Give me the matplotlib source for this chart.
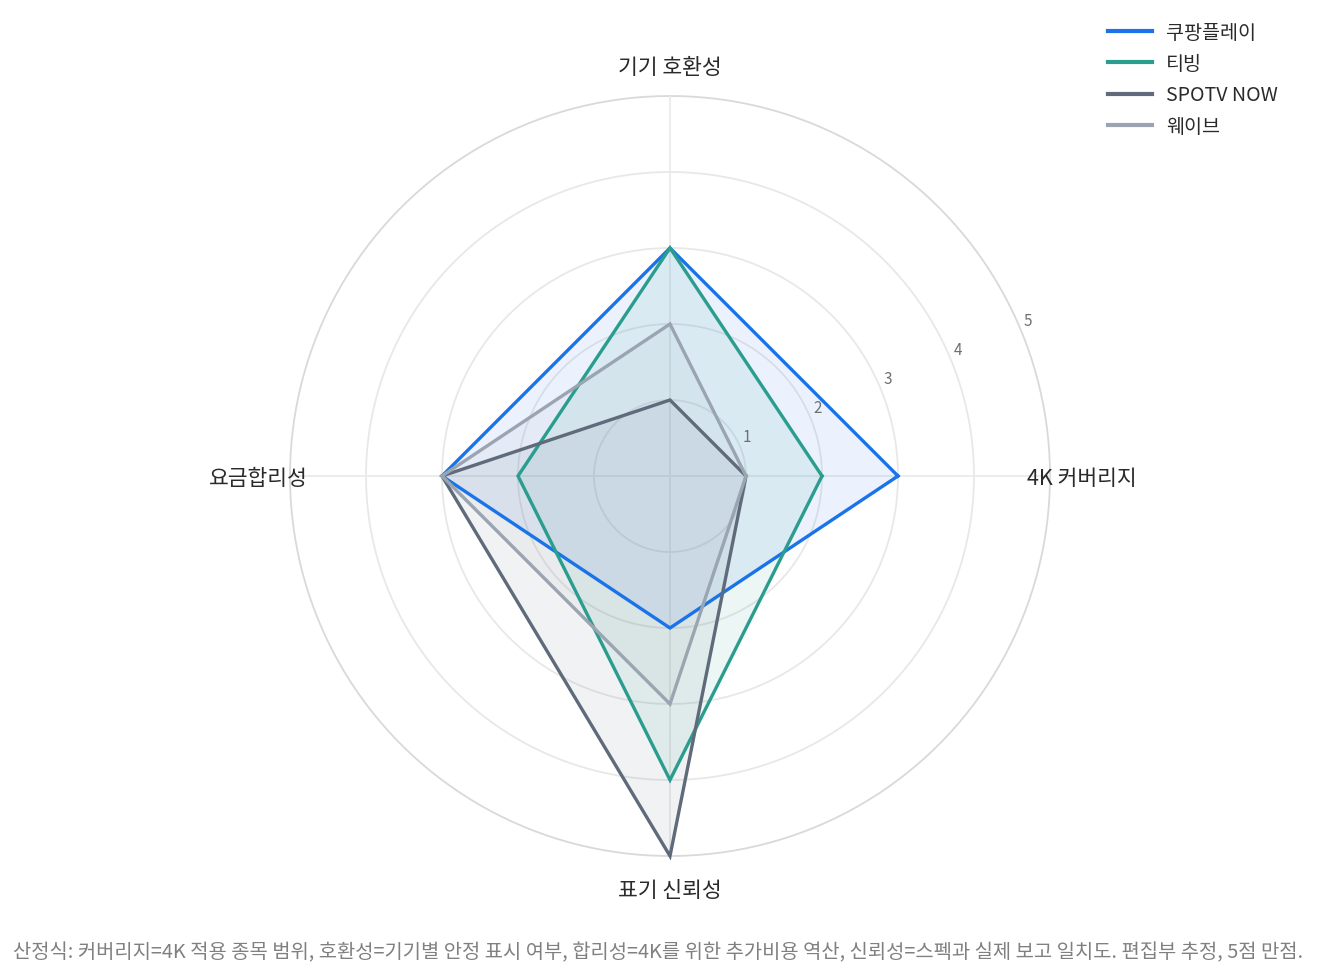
import numpy as np
import matplotlib
matplotlib.use("Agg")
import matplotlib.pyplot as plt
from matplotlib.lines import Line2D

plt.rcParams['font.family'] = ['Noto Sans CJK KR', 'DejaVu Sans']

categories = ['4K 커버리지', '기기 호환성', '요금합리성', '표기 신뢰성']
series_names = ['쿠팡플레이', '티빙', 'SPOTV NOW', '웨이브']
coupang = [3, 3, 3, 2]
tving = [2, 3, 2, 4]
spotv = [1, 1, 3, 5]
wavve = [1, 2, 3, 3]
series_values = [coupang, tving, spotv, wavve]
colors = ['#1a73e8', '#2a9d8f', '#5f6b7a', '#9aa5b1']
radial_ticks = [1, 2, 3, 4, 5]
footnote = "산정식: 커버리지=4K 적용 종목 범위, 호환성=기기별 안정 표시 여부, 합리성=4K를 위한 추가비용 역산, 신뢰성=스펙과 실제 보고 일치도. 편집부 추정, 5점 만점."

W, H = 1317, 979
fig = plt.figure(figsize=(W / 100, H / 100), dpi=100)
cx, cy, R = 670, 477, 380
ax = fig.add_axes([(cx - R) / W, (H - cy - R) / H, 2 * R / W, 2 * R / H], projection='polar')

n = len(categories)
angles = np.arange(n) * 2 * np.pi / n
ax.set_theta_offset(0)
ax.set_theta_direction(1)
ax.set_ylim(0, 5)
ax.set_facecolor('none')
ax.spines['polar'].set_visible(False)
ax.grid(False)
ax.set_xticks([])
ax.set_yticks([])

# grid circles
th = np.linspace(0, 2 * np.pi, 400)
for r in radial_ticks:
    col = '#d9d9d9' if r == 5 else '#e8e8e8'
    ax.plot(th, np.full_like(th, r), color=col, lw=1.3, zorder=1, clip_on=False)
for a in angles:
    ax.plot([a, a], [0, 5], color='#ebebeb', lw=1.3, zorder=1)

# series
for name, vals, c in zip(series_names, series_values, colors):
    v = list(vals) + [vals[0]]
    a = list(angles) + [angles[0]]
    ax.fill(a, v, color=c, alpha=0.085, lw=0, zorder=2)
    ax.plot(a, v, color=c, lw=2.4, zorder=3, clip_on=False, solid_joinstyle='miter', label=name)

# radial tick labels
tick_ang = np.deg2rad(22.5)
for r in radial_ticks:
    ax.annotate(str(r), xy=(tick_ang, r), xytext=(4.9, 7.4), textcoords='offset points',
                ha='center', va='center', fontsize=11, color='#707070', zorder=5,
                annotation_clip=False)

# category labels
for a, lab in zip(angles, categories):
    ax.text(a, 5.42, lab, ha='center', va='center_baseline', fontsize=15.5, color='#2a2a2a',
            zorder=6, clip_on=False)

# legend
handles = [Line2D([0], [0], color=c, lw=3) for c in colors]
fig.legend(handles, series_names, loc='upper left',
           bbox_to_anchor=(1108 / W, 1 - 23 / H), frameon=False, fontsize=14.1,
           handlelength=2.25, handletextpad=0.7, labelspacing=0.52,
           borderpad=0, borderaxespad=0, labelcolor='#2a2a2a')

fig.text(658 / W, 1 - 950 / H, footnote, ha='center', va='center_baseline', fontsize=14.3, color='#808080')

fig.savefig('out.png', dpi=100, facecolor='white')
